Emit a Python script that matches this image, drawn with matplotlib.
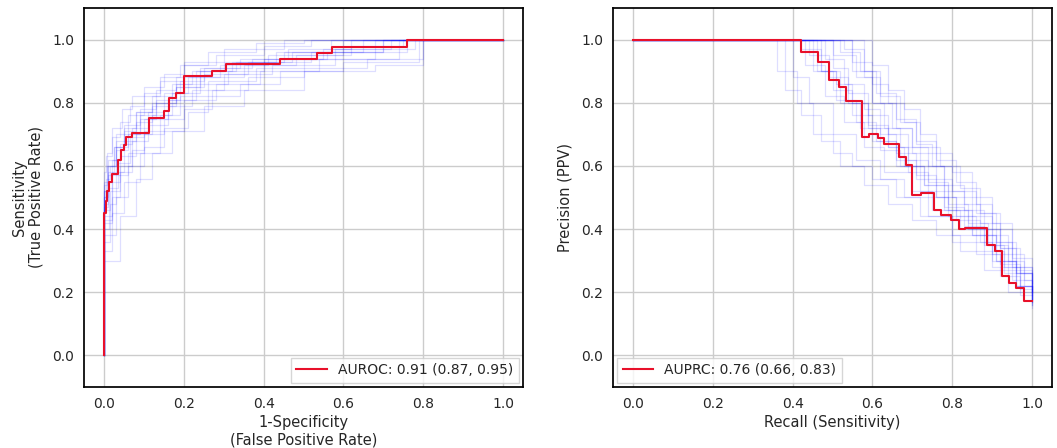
import matplotlib
matplotlib.use("Agg")
import matplotlib.pyplot as plt

# main ROC curve (start fpr of each flat segment, tpr level)
roc_fpr = [0.0, 0.0, 0.004, 0.008, 0.012, 0.02, 0.035, 0.042, 0.05, 0.055, 0.07, 0.112, 0.15,
           0.162, 0.18, 0.2, 0.27, 0.305, 0.44, 0.533, 0.571, 0.76, 1.0]
roc_tpr = [0.0, 0.45, 0.49, 0.52, 0.55, 0.573, 0.62, 0.65, 0.665, 0.69, 0.705, 0.753, 0.775,
           0.816, 0.832, 0.886, 0.902, 0.924, 0.94, 0.959, 0.978, 1.0, 1.0]

# bootstrap ROC curves
roc_boot_fpr = [
    [0, 0, 0.01, 0.03, 0.06, 0.1, 0.14, 0.2, 0.28, 0.4, 0.52, 1.0],
    [0, 0, 0.02, 0.04, 0.08, 0.12, 0.17, 0.24, 0.35, 0.48, 0.62, 0.75, 1.0],
    [0, 0, 0.02, 0.05, 0.09, 0.14, 0.2, 0.27, 0.36, 0.5, 0.66, 0.8, 1.0],
    [0, 0, 0.01, 0.025, 0.05, 0.08, 0.12, 0.18, 0.23, 0.33, 0.45, 0.7, 1.0],
    [0, 0, 0.015, 0.04, 0.07, 0.11, 0.16, 0.22, 0.3, 0.42, 0.58, 0.78, 1.0],
    [0, 0, 0.008, 0.02, 0.045, 0.07, 0.1, 0.15, 0.2, 0.3, 0.45, 1.0],
    [0, 0, 0.03, 0.06, 0.1, 0.15, 0.21, 0.26, 0.34, 0.44, 0.6, 0.79, 1.0],
    [0, 0, 0.01, 0.03, 0.06, 0.09, 0.13, 0.19, 0.25, 0.37, 0.55, 0.72, 1.0],
    [0, 0, 0.02, 0.05, 0.08, 0.12, 0.18, 0.24, 0.32, 0.47, 0.65, 1.0],
    [0, 0, 0.012, 0.035, 0.065, 0.1, 0.16, 0.23, 0.31, 0.4, 0.56, 0.76, 1.0],
    [0, 0, 0.04, 0.08, 0.12, 0.17, 0.25, 0.35, 0.5, 0.68, 0.8, 1.0],
    [0, 0, 0.006, 0.02, 0.04, 0.065, 0.1, 0.14, 0.19, 0.26, 0.38, 0.5, 1.0],
    [0, 0, 0.01, 0.02, 0.04, 0.07, 0.11, 0.15, 0.21, 0.29, 0.41, 0.6, 1.0],
    [0, 0, 0.005, 0.015, 0.03, 0.06, 0.09, 0.13, 0.18, 0.25, 0.36, 0.52, 0.7, 1.0],
    [0, 0, 0.02, 0.04, 0.07, 0.1, 0.14, 0.19, 0.26, 0.38, 0.5, 0.68, 1.0],
    [0, 0, 0.01, 0.03, 0.05, 0.09, 0.13, 0.18, 0.24, 0.34, 0.46, 0.62, 1.0],
    [0, 0, 0.015, 0.03, 0.06, 0.1, 0.15, 0.2, 0.28, 0.39, 0.54, 0.74, 1.0],
    [0, 0, 0.008, 0.025, 0.05, 0.08, 0.12, 0.17, 0.22, 0.3, 0.43, 0.57, 1.0],
]
roc_boot_tpr = [
    [0, 0.55, 0.62, 0.7, 0.76, 0.82, 0.87, 0.92, 0.95, 0.98, 1.0, 1.0],
    [0, 0.42, 0.55, 0.63, 0.7, 0.76, 0.83, 0.88, 0.92, 0.95, 0.98, 1.0, 1.0],
    [0, 0.33, 0.45, 0.55, 0.64, 0.71, 0.78, 0.84, 0.88, 0.91, 0.94, 1.0, 1.0],
    [0, 0.5, 0.58, 0.66, 0.72, 0.77, 0.8, 0.86, 0.9, 0.93, 0.96, 1.0, 1.0],
    [0, 0.46, 0.52, 0.6, 0.68, 0.73, 0.79, 0.84, 0.89, 0.92, 0.97, 1.0, 1.0],
    [0, 0.52, 0.64, 0.72, 0.78, 0.82, 0.85, 0.89, 0.93, 0.97, 1.0, 1.0],
    [0, 0.38, 0.5, 0.6, 0.66, 0.72, 0.77, 0.82, 0.86, 0.9, 0.93, 1.0, 1.0],
    [0, 0.48, 0.57, 0.65, 0.7, 0.75, 0.81, 0.87, 0.91, 0.94, 0.97, 1.0, 1.0],
    [0, 0.44, 0.58, 0.68, 0.74, 0.79, 0.85, 0.9, 0.93, 0.96, 1.0, 1.0],
    [0, 0.4, 0.53, 0.61, 0.69, 0.75, 0.81, 0.86, 0.9, 0.94, 0.96, 1.0, 1.0],
    [0, 0.3, 0.44, 0.56, 0.64, 0.71, 0.79, 0.84, 0.9, 0.92, 1.0, 1.0],
    [0, 0.58, 0.63, 0.69, 0.74, 0.79, 0.83, 0.88, 0.92, 0.96, 0.99, 1.0, 1.0],
    [0, 0.47, 0.55, 0.62, 0.67, 0.72, 0.77, 0.83, 0.88, 0.92, 0.95, 1.0, 1.0],
    [0, 0.5, 0.56, 0.6, 0.66, 0.7, 0.76, 0.8, 0.85, 0.89, 0.93, 0.96, 1.0, 1.0],
    [0, 0.43, 0.5, 0.58, 0.65, 0.71, 0.76, 0.82, 0.87, 0.91, 0.94, 1.0, 1.0],
    [0, 0.52, 0.6, 0.68, 0.73, 0.78, 0.84, 0.88, 0.91, 0.94, 0.97, 1.0, 1.0],
    [0, 0.36, 0.48, 0.57, 0.64, 0.7, 0.75, 0.81, 0.86, 0.9, 0.94, 1.0, 1.0],
    [0, 0.54, 0.6, 0.66, 0.71, 0.77, 0.82, 0.86, 0.9, 0.93, 0.96, 1.0, 1.0],
]

# main PR curve (start recall of each flat segment, precision level)
pr_recall = [0.0, 0.422, 0.463, 0.492, 0.516, 0.534, 0.574, 0.591, 0.613, 0.63, 0.666, 0.684,
             0.70, 0.721, 0.755, 0.771, 0.796, 0.817, 0.832, 0.888, 0.908, 0.925, 0.942,
             0.96, 0.979, 1.0]
pr_precision = [1.0, 0.961, 0.928, 0.873, 0.849, 0.806, 0.690, 0.70, 0.688, 0.669, 0.627, 0.603,
                0.508, 0.513, 0.462, 0.444, 0.429, 0.399, 0.405, 0.349, 0.331, 0.252, 0.228,
                0.212, 0.171, 0.171]

# bootstrap PR curves
pr_boot_recall = [
    [0, 0.55, 0.6, 0.64, 0.68, 0.72, 0.77, 0.82, 0.87, 0.92, 0.96, 1.0],
    [0, 0.45, 0.5, 0.55, 0.6, 0.66, 0.72, 0.78, 0.84, 0.9, 0.95, 1.0],
    [0, 0.4, 0.44, 0.5, 0.56, 0.62, 0.68, 0.74, 0.8, 0.86, 0.92, 0.97, 1.0],
    [0, 0.5, 0.56, 0.6, 0.65, 0.7, 0.76, 0.8, 0.85, 0.9, 0.94, 0.98, 1.0],
    [0, 0.43, 0.48, 0.53, 0.58, 0.63, 0.7, 0.75, 0.82, 0.88, 0.93, 1.0],
    [0, 0.6, 0.64, 0.68, 0.72, 0.76, 0.8, 0.85, 0.9, 0.95, 0.98, 1.0],
    [0, 0.38, 0.42, 0.47, 0.52, 0.58, 0.64, 0.7, 0.76, 0.82, 0.88, 0.94, 1.0],
    [0, 0.47, 0.52, 0.57, 0.62, 0.67, 0.73, 0.79, 0.85, 0.91, 0.96, 1.0],
    [0, 0.52, 0.57, 0.61, 0.66, 0.71, 0.75, 0.8, 0.86, 0.91, 0.95, 1.0],
    [0, 0.36, 0.41, 0.45, 0.5, 0.55, 0.6, 0.66, 0.72, 0.8, 0.9, 1.0],
    [0, 0.42, 0.47, 0.51, 0.55, 0.59, 0.64, 0.69, 0.74, 0.79, 0.85, 0.9, 0.96, 1.0],
    [0, 0.55, 0.6, 0.63, 0.67, 0.72, 0.78, 0.83, 0.88, 0.92, 0.97, 1.0],
    [0, 0.48, 0.53, 0.58, 0.62, 0.66, 0.71, 0.76, 0.81, 0.86, 0.91, 0.96, 1.0],
    [0, 0.5, 0.54, 0.59, 0.64, 0.69, 0.74, 0.79, 0.84, 0.89, 0.94, 1.0],
    [0, 0.44, 0.49, 0.54, 0.59, 0.64, 0.68, 0.73, 0.78, 0.83, 0.88, 0.93, 0.97, 1.0],
    [0, 0.58, 0.62, 0.66, 0.7, 0.74, 0.78, 0.83, 0.87, 0.92, 0.96, 1.0],
    [0, 0.46, 0.51, 0.56, 0.61, 0.66, 0.71, 0.76, 0.81, 0.87, 0.92, 0.97, 1.0],
    [0, 0.53, 0.58, 0.62, 0.67, 0.71, 0.76, 0.81, 0.86, 0.9, 0.95, 1.0],
]
pr_boot_precision = [
    [1.0, 0.93, 0.86, 0.8, 0.74, 0.66, 0.6, 0.53, 0.45, 0.36, 0.26, 0.2],
    [1.0, 0.9, 0.84, 0.76, 0.68, 0.6, 0.52, 0.46, 0.4, 0.32, 0.24, 0.18],
    [1.0, 0.88, 0.8, 0.7, 0.62, 0.56, 0.5, 0.44, 0.38, 0.32, 0.25, 0.19, 0.15],
    [1.0, 0.95, 0.88, 0.8, 0.72, 0.64, 0.56, 0.5, 0.44, 0.38, 0.3, 0.22, 0.17],
    [1.0, 0.92, 0.82, 0.74, 0.66, 0.58, 0.52, 0.46, 0.4, 0.33, 0.26, 0.2],
    [1.0, 0.92, 0.84, 0.78, 0.7, 0.64, 0.58, 0.5, 0.42, 0.32, 0.24, 0.21],
    [1.0, 0.84, 0.76, 0.68, 0.6, 0.54, 0.48, 0.43, 0.38, 0.33, 0.27, 0.2, 0.16],
    [1.0, 0.9, 0.8, 0.72, 0.65, 0.6, 0.54, 0.46, 0.38, 0.3, 0.22, 0.18],
    [1.0, 0.96, 0.9, 0.83, 0.75, 0.67, 0.6, 0.52, 0.45, 0.36, 0.28, 0.22],
    [1.0, 0.9, 0.8, 0.7, 0.64, 0.6, 0.56, 0.5, 0.44, 0.36, 0.28, 0.18],
    [1.0, 0.97, 0.9, 0.86, 0.8, 0.73, 0.66, 0.58, 0.5, 0.44, 0.38, 0.3, 0.22, 0.18],
    [1.0, 0.9, 0.8, 0.72, 0.66, 0.6, 0.52, 0.46, 0.4, 0.34, 0.26, 0.2],
    [1.0, 0.94, 0.86, 0.78, 0.7, 0.64, 0.57, 0.5, 0.44, 0.38, 0.3, 0.22, 0.17],
    [1.0, 0.91, 0.83, 0.76, 0.7, 0.62, 0.55, 0.48, 0.42, 0.35, 0.27, 0.19],
    [1.0, 0.95, 0.88, 0.8, 0.72, 0.66, 0.6, 0.54, 0.47, 0.41, 0.35, 0.28, 0.21, 0.16],
    [1.0, 0.88, 0.8, 0.72, 0.66, 0.6, 0.54, 0.48, 0.42, 0.34, 0.26, 0.2],
    [1.0, 0.9, 0.81, 0.74, 0.68, 0.62, 0.56, 0.5, 0.43, 0.36, 0.29, 0.22, 0.17],
    [1.0, 0.97, 0.9, 0.82, 0.74, 0.68, 0.62, 0.55, 0.48, 0.4, 0.31, 0.23],
]

auroc_label = "AUROC: 0.91 (0.87, 0.95)"
auprc_label = "AUPRC: 0.76 (0.66, 0.83)"
ticks = [0.0, 0.2, 0.4, 0.6, 0.8, 1.0]

plt.rcParams["font.family"] = "DejaVu Sans"
plt.rcParams["text.color"] = "#262626"
plt.rcParams["axes.labelcolor"] = "#262626"
plt.rcParams["xtick.color"] = "#262626"
plt.rcParams["ytick.color"] = "#262626"


def style_axis(ax, xlabel, ylabel):
    ax.set_xlim(-0.05, 1.05)
    ax.set_ylim(-0.1, 1.1)
    ax.set_xticks(ticks)
    ax.set_yticks(ticks)
    ax.tick_params(length=0, labelsize=10, pad=7)
    ax.grid(True, color="#cccccc", linewidth=1)
    ax.set_axisbelow(True)
    for s in ax.spines.values():
        s.set_color("black")
        s.set_linewidth(1.25)
    ax.set_xlabel(xlabel, fontsize=10.5, labelpad=3)
    ax.set_ylabel(ylabel, fontsize=10.5, labelpad=6)


fig = plt.figure(figsize=(10.57, 4.48), dpi=100)
ax1 = fig.add_axes([84 / 1057, 61 / 448, 439 / 1057, 379 / 448])
ax2 = fig.add_axes([613 / 1057, 61 / 448, 439 / 1057, 379 / 448])

for f, t in zip(roc_boot_fpr, roc_boot_tpr):
    ax1.plot(f, t, drawstyle="steps-post", color="blue", alpha=0.13, linewidth=0.9)
ax1.plot(roc_fpr, roc_tpr, drawstyle="steps-post", color="#e8102a", linewidth=1.5, label=auroc_label)
style_axis(ax1, "1-Specificity\n(False Positive Rate)", "Sensitivity\n(True Positive Rate)")
ax1.legend(loc="lower right", fontsize=10, fancybox=False, edgecolor="#cccccc",
           borderaxespad=0.3, handlelength=2.2)

for r, p in zip(pr_boot_recall, pr_boot_precision):
    ax2.plot(r, p, drawstyle="steps-post", color="blue", alpha=0.13, linewidth=0.9)
ax2.plot(pr_recall, pr_precision, drawstyle="steps-post", color="#e8102a", linewidth=1.5, label=auprc_label)
style_axis(ax2, "Recall (Sensitivity)", "Precision (PPV)")
ax2.legend(loc="lower left", fontsize=10, fancybox=False, edgecolor="#cccccc",
           borderaxespad=0.3, handlelength=2.2)

fig.savefig("out.png", dpi=100)
